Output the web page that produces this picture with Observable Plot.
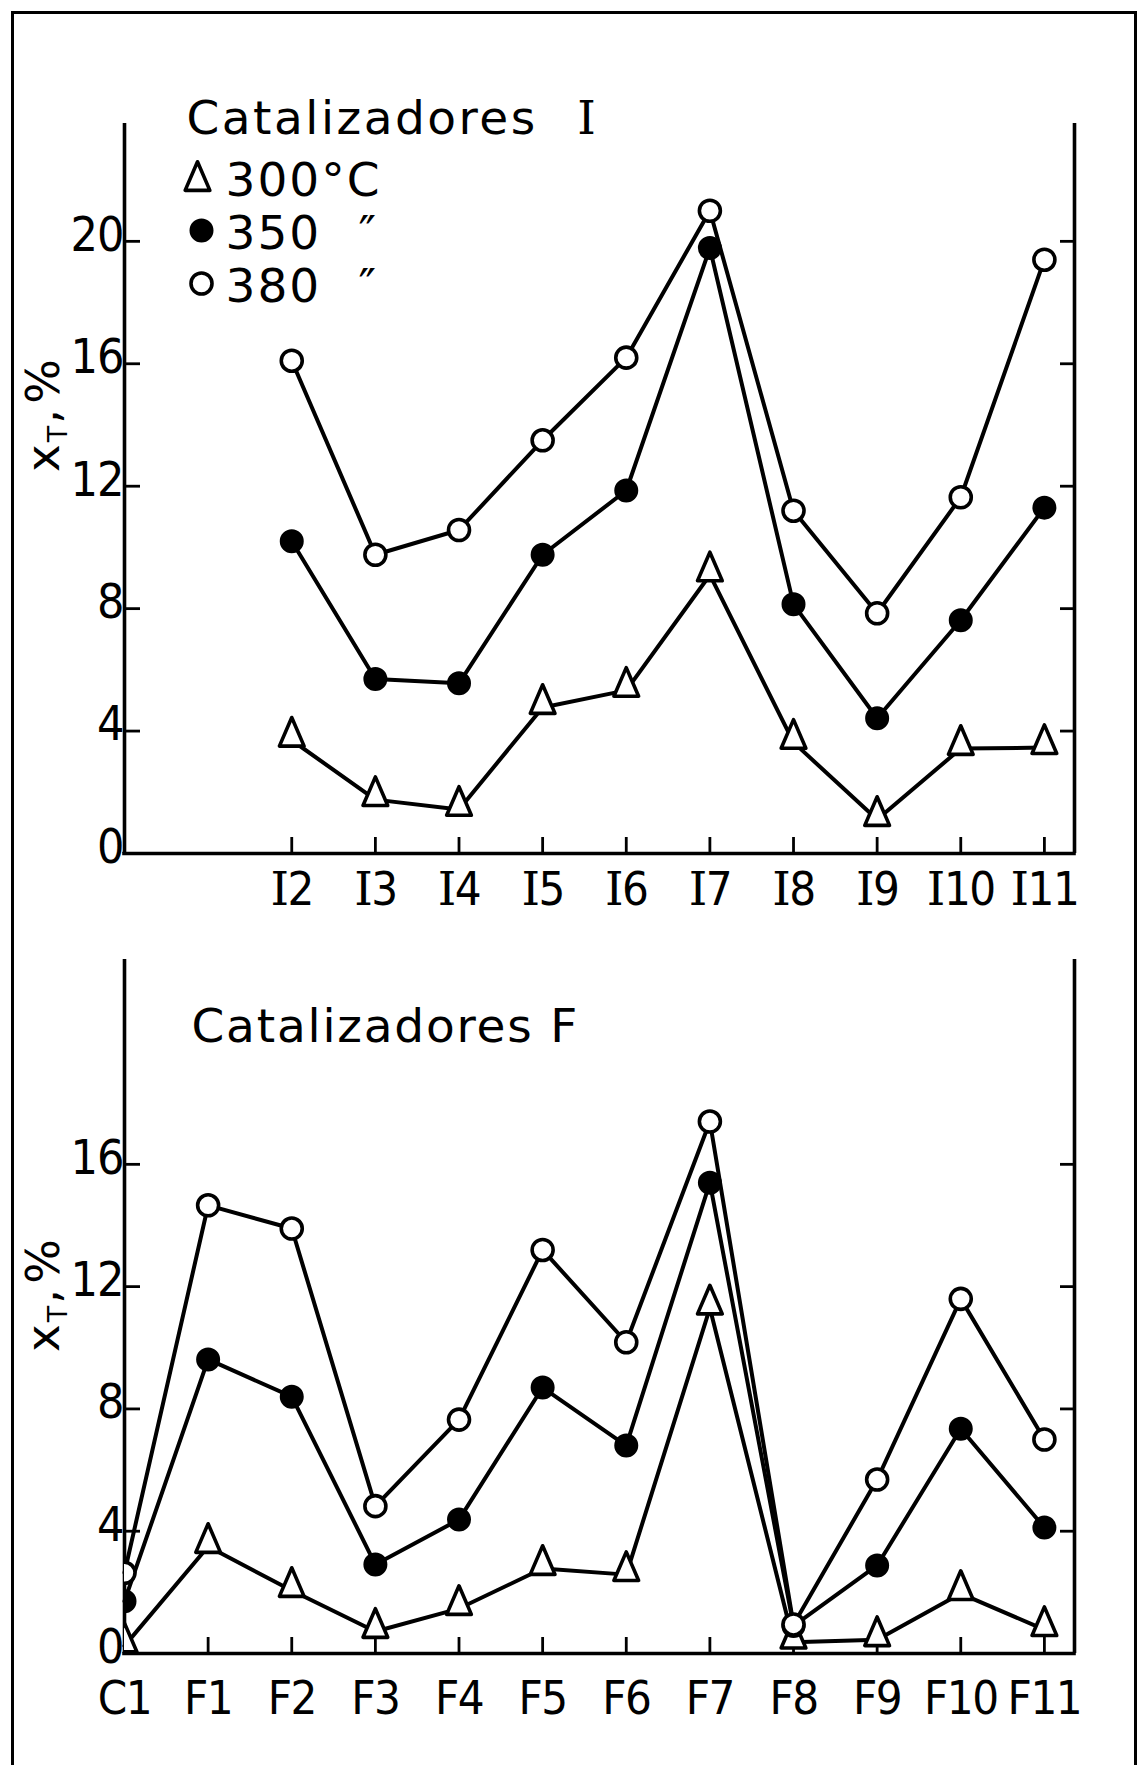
<!DOCTYPE html>
<html>
<head>
<meta charset="utf-8">
<script src="https://cdn.jsdelivr.net/npm/d3@7"></script>
<script src="https://cdn.jsdelivr.net/npm/@observablehq/plot@0.6"></script>
<style>
  html, body { margin: 0; padding: 0; background: #fff; }
  #page { position: relative; width: 1141px; height: 1765px; overflow: hidden; background: #fff; }
  #border { position: absolute; left: 11px; top: 11px; width: 1120px; height: 1800px;
            border: 3px solid #000; border-bottom: none; }
  .panel { position: absolute; left: 0; }
</style>
</head>
<body>
<div id="page">
  <div id="border"></div>
  <div id="panelI" class="panel" style="top:0px"></div>
  <div id="panelF" class="panel" style="top:900px"></div>
</div>
<script>
// Total conversion x_T (%) of the I and F catalysts at 300, 350 and 380 °C

// ---- data -------------------------------------------------------------
const catalystsI = ["I2", "I3", "I4", "I5", "I6", "I7", "I8", "I9", "I10", "I11"];
const firstSlotI = 2; // I2 … I11 sit in the same columns as F2 … F11
const xt300I = [3.7, 1.76, 1.44, 4.77, 5.33, 9.1, 3.63, 1.11, 3.43, 3.46];
const xt350I = [10.2, 5.7, 5.56, 9.76, 11.86, 19.78, 8.14, 4.42, 7.62, 11.3];
const xt380I = [16.1, 9.76, 10.57, 13.5, 16.2, 21.0, 11.2, 7.85, 11.64, 19.4];

const catalystsF = ["C1", "F1", "F2", "F3", "F4", "F5", "F6", "F7", "F8", "F9", "F10", "F11"];
const firstSlotF = 0;
const xt300F = [0.25, 3.5, 2.06, 0.72, 1.47, 2.78, 2.58, 11.3, 0.37, 0.45, 1.96, 0.78];
const xt350F = [1.71, 9.62, 8.4, 2.91, 4.38, 8.7, 6.8, 15.4, 0.9, 2.88, 7.35, 4.12];
const xt380F = [2.64, 14.66, 13.9, 4.82, 7.65, 13.2, 10.18, 17.4, 0.95, 5.69, 11.6, 7.0];

const temperatures = ["300", "350", "380"];
const legendLabels = ["300°C", "350", "380"];
const yTicksI = [0, 4, 8, 12, 16, 20];
const yTicksF = [0, 4, 8, 12, 16];
const yMaxI = 23.85;
const yMaxF = 22.7;
const xMax = 11.36;

// ---- drawing ----------------------------------------------------------
const W = 1141;
const frameLeft = 124, frameRight = 1074;
const plotW = frameRight - frameLeft;
const textFont = "DejaVu Sans";
const tickFont = "'Liberation Sans Narrow', 'DejaVu Sans Condensed', 'Roboto', sans-serif";
const serifFont = "DejaVu Serif";
const SVGNS = "http://www.w3.org/2000/svg";
const lineW = 4;

// open triangle whose data point lies near its base, as plotted by hand
const triangle = {
  draw(context, size) {
    const r = Math.sqrt(size / Math.PI);
    const hw = 0.95 * r, top = -1.75 * r, base = 0.45 * r;
    context.moveTo(0, top);
    context.lineTo(hw, base);
    context.lineTo(-hw, base);
    context.closePath();
  }
};

const markerStyle = {
  "300": {symbol: triangle, r: 13, fill: "white", stroke: "black", strokeWidth: 3.6, strokeLinejoin: "round"},
  "350": {symbol: "circle", r: 11, fill: "black", stroke: "black", strokeWidth: 2},
  "380": {symbol: "circle", r: 10.5, fill: "white", stroke: "black", strokeWidth: 3.6}
};

function toRows(cats, firstSlot, seriesValues) {
  return temperatures.flatMap((t, k) =>
    seriesValues[k].map((v, i) => ({cat: cats[i], slot: firstSlot + i, temp: t, value: v})));
}

function tspan(text, attrs = {}) {
  const el = document.createElementNS(SVGNS, "tspan");
  for (const [k, v] of Object.entries(attrs)) el.setAttribute(k, v);
  el.textContent = text;
  return el;
}

// Roman "I" set in a serif face, the rest left as it is
function serifI(textEl, gap = 0) {
  const s = textEl.textContent;
  const k = s.lastIndexOf("I");
  if (k < 0) return;
  textEl.textContent = "";
  if (k > 0) textEl.append(tspan(s.slice(0, k)));
  textEl.append(tspan("I", {"font-family": serifFont, dx: gap}));
  if (k + 1 < s.length) textEl.append(tspan(s.slice(k + 1)));
}

function axisLabel(textEl) {
  textEl.textContent = "";
  textEl.append(tspan("x"), tspan("T", {"font-size": 27, dy: 8}), tspan(",", {dy: -8}), tspan("%", {dx: 3}));
}

function panel({cats, firstSlot, values, yMax, yTicks, height, frameTop, frameBottom,
                title, titleDx, titleDy, titleSpacing, titleGap, labelDy, tickPadX, romanTicks, legend, clip}) {
  const plotH = frameBottom - frameTop;
  const rows = toRows(cats, firstSlot, values);
  const slots = cats.map((_, i) => firstSlot + i);
  const inner = yTicks.filter(v => v > 0);
  const marks = [
    // inward ticks
    Plot.tickX(slots.filter(s => s > 0), {x: d => d, insetTop: plotH - 16, strokeWidth: 2.8}),
    Plot.tickY(inner, {y: d => d, insetRight: plotW - 16, strokeWidth: 2.8}),
    Plot.tickY(inner, {y: d => d, insetLeft: plotW - 14, strokeWidth: 2.8}),
    // axis lines: left, right and bottom
    Plot.ruleX([0, xMax], {strokeWidth: 3.6}),
    Plot.ruleY([0], {strokeWidth: 3.6, strokeLinecap: "square"}),
    Plot.axisX({ticks: slots, tickFormat: s => cats[s - firstSlot], tickSize: 0, tickPadding: tickPadX,
                fontSize: 47, fontFamily: tickFont, label: null}),
    Plot.axisY({ticks: yTicks, tickSize: 0, tickPadding: 1, dy: -6, fontSize: 48, fontFamily: tickFont, label: null}),
    // series
    Plot.line(rows, {x: "slot", y: "value", z: "temp", stroke: "black", strokeWidth: lineW, strokeLinejoin: "round"}),
    ...temperatures.map(t => Plot.dot(rows.filter(d => d.temp === t),
      {x: "slot", y: "value", ...markerStyle[t], clip})),
    // title and axis label
    Plot.text([title], {frameAnchor: "top-left", dx: titleDx, dy: titleDy, textAnchor: "start",
                        lineAnchor: "bottom", fontSize: 47, fontFamily: textFont}),
    Plot.text(["xT,%"], {frameAnchor: "left", dx: -66, dy: labelDy, rotate: -90, textAnchor: "middle",
                         lineAnchor: "bottom", fontSize: 47, fontFamily: textFont})
  ];
  if (legend) {
    temperatures.forEach((t, i) => {
      const baseline = 72 + 53 * i;
      const sx = t === "300" ? 73 : 77;
      const sy = baseline - 18 + (t === "300" ? 7 : 0);
      marks.push(Plot.dot([t], {frameAnchor: "top-left", dx: sx, dy: sy, ...markerStyle[t]}));
      marks.push(Plot.text([legendLabels[i]], {frameAnchor: "top-left", dx: 101, dy: baseline, textAnchor: "start",
                                              lineAnchor: "bottom", fontSize: 47, fontFamily: textFont}));
      if (i > 0) marks.push(Plot.text(["″"], {frameAnchor: "top-left", dx: 234, dy: baseline, textAnchor: "start",
                                             lineAnchor: "bottom", fontSize: 47, fontFamily: textFont}));
    });
  }
  const svg = Plot.plot({
    width: W, height,
    marginLeft: frameLeft, marginRight: W - frameRight,
    marginTop: frameTop, marginBottom: height - frameBottom,
    x: {type: "linear", domain: [0, xMax]},
    y: {domain: [0, yMax]},
    style: {color: "black", background: "transparent", fontFamily: textFont, overflow: "visible"},
    marks
  });
  svg.querySelectorAll("text").forEach(t => {
    const s = t.textContent;
    if (s === title) { t.setAttribute("letter-spacing", titleSpacing); if (romanTicks) serifI(t, titleGap); }
    else if (s === "xT,%") { t.setAttribute("letter-spacing", 2); axisLabel(t); }
    else if (legendLabels.includes(s) && legend) t.setAttribute("letter-spacing", 2);
  });
  svg.querySelectorAll('g[aria-label="x-axis tick label"] text').forEach(t => t.setAttribute("letter-spacing", -1.5));
  svg.querySelectorAll('g[aria-label="y-axis tick label"] text').forEach(t => t.setAttribute("letter-spacing", -1));
  if (romanTicks) {
    svg.querySelectorAll('g[aria-label="x-axis tick label"] text').forEach(t => serifI(t));
  }
  return svg;
}

document.getElementById("panelI").append(panel({
  cats: catalystsI, firstSlot: firstSlotI, values: [xt300I, xt350I, xt380I],
  yMax: yMaxI, yTicks: yTicksI, height: 940, frameTop: 123, frameBottom: 853,
  title: "Catalizadores I", titleDx: 62, titleDy: 10, titleSpacing: 2.5, titleGap: 22, labelDy: -74, tickPadX: 18,
  romanTicks: true, legend: true, clip: false
}));

document.getElementById("panelF").append(panel({
  cats: catalystsF, firstSlot: firstSlotF, values: [xt300F, xt350F, xt380F],
  yMax: yMaxF, yTicks: yTicksF, height: 865, frameTop: 59, frameBottom: 753,
  title: "Catalizadores F", titleDx: 67, titleDy: 82, titleSpacing: 1.8, titleGap: 0, labelDy: -12, tickPadX: 27,
  romanTicks: false, legend: false, clip: true
}));
</script>
</body>
</html>
